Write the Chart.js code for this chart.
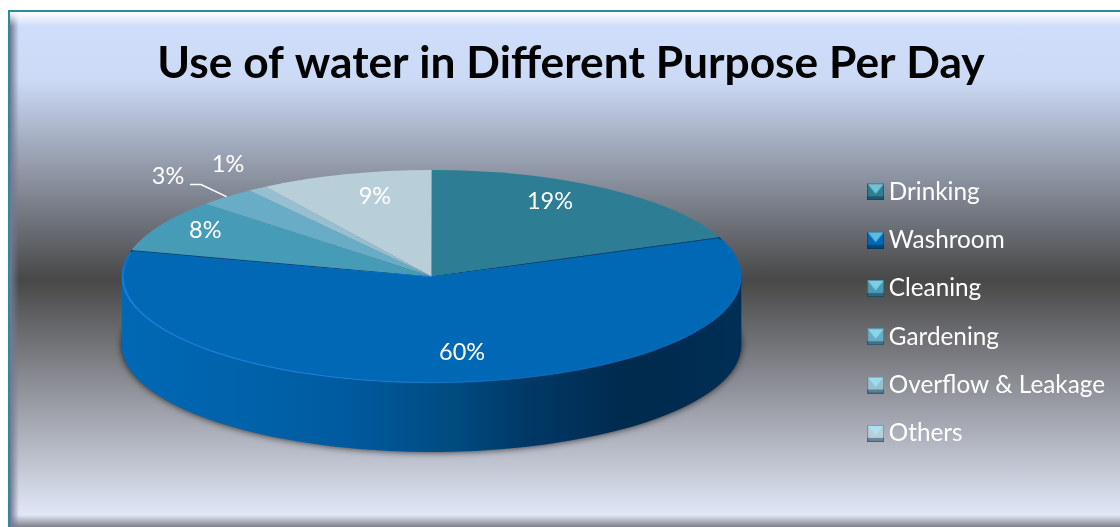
<!DOCTYPE html>
<html>
<head>
<meta charset="utf-8">
<title>Use of water</title>
<script src="https://cdn.jsdelivr.net/npm/chart.js@4"></script>
<style>
  html, body { margin: 0; padding: 0; background: #fff; overflow: hidden; }
  body { width: 1120px; height: 527px; position: relative; }
  .frame {
    position: absolute; left: 8px; top: 10px; width: 1120px; height: 517px;
    box-sizing: border-box; border-left: 2px solid #2c8aa0; border-top: 2px solid #2c8aa0;
    background:
      linear-gradient(to bottom, #ffffff 0, rgba(255,255,255,0) 14px) no-repeat,
      linear-gradient(to right, #6f7a90 0, rgba(111,122,144,0) 9px) no-repeat,
      linear-gradient(to top, #7d8088 0, rgba(125,128,136,0) 12px) no-repeat,
      linear-gradient(to bottom, #cfdefa 0, #ccdaf6 13%, #484848 52%, #e2e8f8 98%);
  }
  canvas { position: absolute; left: 0; top: 0; }
</style>
</head>
<body>
<div class="frame"></div>
<canvas id="chart" width="1120" height="527"></canvas>
<script>
  const TITLE = 'Use of water in Different Purpose Per Day';
  const PURPOSES = ['Drinking', 'Washroom', 'Cleaning', 'Gardening', 'Overflow & Leakage', 'Others'];
  const SHARES = [19, 60, 8, 3, 1, 9];
  const SLICE_COLORS = ['#2d7d95', '#0068b5', '#469cb6', '#69acc5', '#96bfd0', '#b8cfda'];

  // where the flattened disc sits on the page
  const FACE_CX = 431.5, FACE_CY = 276.5, FACE_RX = 310, FACE_RY = 106.5, DEPTH = 69;
  const SQUASH = FACE_RY / FACE_RX;
  const LABEL_R = 0.7;
  // nudges from the default label spot, same order as SHARES
  const LABEL_NUDGE = [[-3.5, -13], [17, 2], [-36, -10.5], [-120, -44], [-81.5, -50], [4, -8]];
  const LEADER_INDEX = 3;

  function place(ctx, el, dy) {
    ctx.translate(FACE_CX - el.x, FACE_CY + dy);
    ctx.scale(1, SQUASH);
    ctx.translate(0, -el.y);
  }

  function drawSwapped(ctx, el, swap) {
    const keep = el.options;
    el.options = Object.assign({}, keep, swap);
    el.draw(ctx);
    el.options = keep;
  }

  // the disc wall only shows under the washroom slice
  const discPlugin = {
    id: 'disc',
    beforeDatasetDraw(chart, args) {
      const ctx = chart.ctx;
      const el = args.meta.data[1];
      const wall = ctx.createLinearGradient(el.x - FACE_RX, 0, el.x + FACE_RX, 0);
      wall.addColorStop(0, '#0068b5');
      wall.addColorStop(0.18, '#0063ab');
      wall.addColorStop(0.37, '#005a9e');
      wall.addColorStop(0.544, '#004a80');
      wall.addColorStop(0.645, '#003a68');
      wall.addColorStop(0.81, '#002a4e');
      wall.addColorStop(0.87, '#002a4e');
      wall.addColorStop(1, '#002f55');
      for (let dy = DEPTH; dy >= 0; dy--) {
        ctx.save();
        if (dy === DEPTH) { ctx.shadowColor = 'rgba(0,0,0,0.75)'; ctx.shadowBlur = 7; }
        place(ctx, el, dy);
        drawSwapped(ctx, el, { backgroundColor: wall, borderWidth: 0 });
        ctx.restore();
      }
      const rim = ctx.createConicGradient(el.startAngle, el.x, el.y);
      rim.addColorStop(0, '#123f60');
      rim.addColorStop(0.002, '#123f60');
      rim.addColorStop(0.004, '#0468b6');
      rim.addColorStop(0.25, '#086dbc');
      rim.addColorStop(0.36, '#1f88e0');
      rim.addColorStop(0.52, '#1a80d8');
      rim.addColorStop(0.58, '#0a74c8');
      rim.addColorStop(0.596, '#0a74c8');
      rim.addColorStop(0.598, '#123f60');
      rim.addColorStop(1, '#123f60');
      el.options = Object.assign({}, el.options, { borderColor: rim });
      ctx.save();
      place(ctx, el, 0);
    },
    afterDatasetDraw(chart) {
      chart.ctx.restore();
    },
    afterDatasetsDraw(chart) {
      const ctx = chart.ctx;
      const arcs = chart.getDatasetMeta(0).data;
      ctx.save();
      ctx.fillStyle = '#fff';
      ctx.font = '23.5px Lato';
      ctx.textAlign = 'center';
      ctx.textBaseline = 'middle';
      arcs.forEach((el, i) => {
        const mid = (el.startAngle + el.endAngle) / 2;
        const x = FACE_CX + Math.cos(mid) * FACE_RX * LABEL_R + LABEL_NUDGE[i][0];
        const y = FACE_CY + Math.sin(mid) * FACE_RY * LABEL_R + LABEL_NUDGE[i][1];
        ctx.fillText(SHARES[i] + '%', x, y);
      });
      // leader from the 3% label to its slice
      const el = arcs[LEADER_INDEX];
      const mid = (el.startAngle + el.endAngle) / 2;
      ctx.strokeStyle = '#fff';
      ctx.lineWidth = 1.5;
      ctx.beginPath();
      ctx.moveTo(190, 184.5);
      ctx.lineTo(201, 184.5);
      ctx.lineTo(FACE_CX + Math.cos(mid) * FACE_RX, FACE_CY + Math.sin(mid) * FACE_RY);
      ctx.stroke();
      ctx.restore();
    }
  };

  function makeSwatch(color) {
    const s = 17, b = 4;
    const c = document.createElement('canvas');
    c.width = s; c.height = s;
    const g = c.getContext('2d');
    g.fillStyle = color;
    g.fillRect(0, 0, s, s);
    // bevel: light top, darker bottom
    g.fillStyle = 'rgba(160,240,255,0.6)';
    g.beginPath(); g.moveTo(0, 0); g.lineTo(s, 0); g.lineTo(s / 2, s * 0.62); g.closePath(); g.fill();
    g.fillStyle = 'rgba(0,30,50,0.4)';
    g.fillRect(0, s - b, s, b);
    g.strokeStyle = 'rgba(0,30,50,0.35)';
    g.strokeRect(0.5, 0.5, s - 1, s - 1);
    return c;
  }
  const swatches = SLICE_COLORS.map(makeSwatch);

  new Chart(document.getElementById('chart'), {
    type: 'pie',
    data: {
      labels: PURPOSES,
      datasets: [{
        data: SHARES,
        backgroundColor: SLICE_COLORS,
        borderWidth: [0, 2, 0, 0, 0, 0],
        borderAlign: 'inner',
        radius: FACE_RX,
        clip: false,
      }],
    },
    options: {
      responsive: false,
      animation: false,
      events: [],
      layout: { padding: { left: 27, right: 5, top: 0, bottom: 0 } },
      plugins: {
        tooltip: { enabled: false },
        title: {
          display: true,
          text: TITLE,
          color: '#000',
          font: { family: 'Lato', size: 44.3, weight: 'bold' },
          padding: { top: 37, bottom: 8 },
        },
        legend: {
          position: 'right',
          fullSize: false,
          labels: {
            usePointStyle: true,
            pointStyleWidth: 2,
            boxHeight: 10,
            color: '#fff',
            font: { family: 'Lato', size: 24.3 },
            padding: 24,
            generateLabels: () => PURPOSES.map((text, i) => ({
              text, index: i, hidden: false, pointStyle: swatches[i],
              fillStyle: SLICE_COLORS[i], strokeStyle: SLICE_COLORS[i], lineWidth: 0, fontColor: '#fff',
            })),
          },
        },
      },
    },
    plugins: [discPlugin],
  });
</script>
</body>
</html>
